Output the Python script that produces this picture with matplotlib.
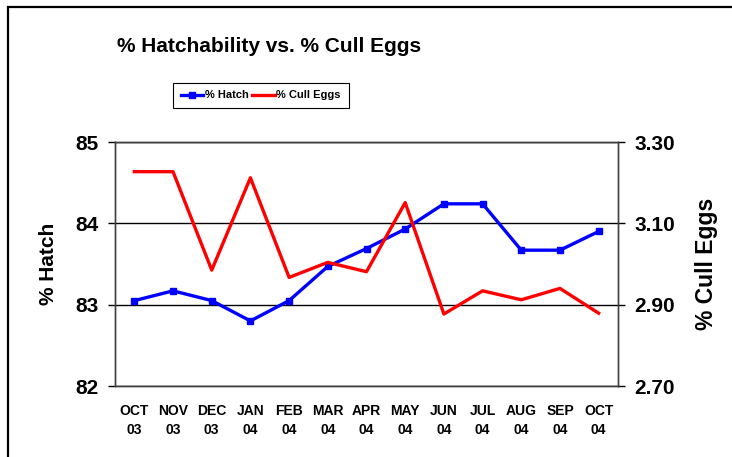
import matplotlib
matplotlib.use("Agg")
import matplotlib.pyplot as plt
from matplotlib.patches import Rectangle
from matplotlib.lines import Line2D

months = ["OCT\n03", "NOV\n03", "DEC\n03", "JAN\n04", "FEB\n04", "MAR\n04", "APR\n04",
          "MAY\n04", "JUN\n04", "JUL\n04", "AUG\n04", "SEP\n04", "OCT\n04"]
hatch = [83.05, 83.17, 83.05, 82.80, 83.05, 83.47, 83.69, 83.93, 84.24, 84.24, 83.67, 83.67, 83.90]
cull = [3.227, 3.227, 2.985, 3.212, 2.967, 3.004, 2.981, 3.151, 2.877, 2.934, 2.912, 2.940, 2.879]
left_ticks = [82, 83, 84, 85]
right_ticks = [2.70, 2.90, 3.10, 3.30]

font = "Liberation Sans"

fig = plt.figure(figsize=(7.32, 4.57), dpi=100)
fig.patch.set_facecolor("white")

# outer chart frame (extends past the image on right/bottom)
fig.patches.append(Rectangle((8 / 732, -0.2), 2.0, (457 - 7) / 457 + 0.2,
                             transform=fig.transFigure, fill=False,
                             edgecolor="black", linewidth=1.6, zorder=0))

ax = fig.add_axes([115 / 732, 1 - 386 / 457, 503 / 732, 244 / 457])
ax2 = ax.twinx()

x = list(range(len(months)))
ax.plot(x, hatch, color="#0000FF", linewidth=2.4, marker="s", markersize=4.5, zorder=3)
ax2.plot(x, cull, color="#FF0000", linewidth=2.4, zorder=3)

ax.set_xlim(-0.5, len(months) - 0.5)
ax.set_ylim(82, 85)
ax2.set_ylim(2.70, 3.30)
ax.set_yticks(left_ticks)
ax.set_yticklabels([f"{v:d}" for v in left_ticks], fontfamily=font, fontweight="bold", fontsize=15)
ax2.set_yticks(right_ticks)
ax2.set_yticklabels([f"{v:.2f}" for v in right_ticks], fontfamily=font, fontweight="bold", fontsize=15)
ax.set_xticks(x)
ax.set_xticklabels(months, fontfamily=font, fontweight="bold", fontsize=10, linespacing=1.45)
ax.tick_params(axis="x", length=0, pad=13)
ax.tick_params(axis="y", direction="out", length=5, width=1, pad=7)
ax2.tick_params(axis="y", direction="out", length=5, width=1, pad=7)

ax.yaxis.grid(True, color="black", linewidth=1)
ax.set_axisbelow(True)
for a in (ax, ax2):
    for s in a.spines.values():
        s.set_color("#404040")
        s.set_linewidth(1)

ax.set_ylabel("% Hatch", fontfamily=font, fontweight="bold", fontsize=15, labelpad=12)
ax2.set_ylabel("% Cull Eggs", fontfamily=font, fontweight="bold", fontsize=16.5, labelpad=14)

fig.text(269 / 732, 1 - 46 / 457, "% Hatchability vs. % Cull Eggs", ha="center", va="center",
         fontfamily=font, fontweight="bold", fontsize=15)

handles = [Line2D([], [], color="#0000FF", linewidth=2.4, marker="s", markersize=4.5),
           Line2D([], [], color="#FF0000", linewidth=2.4)]
leg = fig.legend(handles, ["% Hatch", "% Cull Eggs"], loc="center",
                 bbox_to_anchor=(261 / 732, 1 - 95.5 / 457), ncol=2,
                 prop={"family": font, "weight": "bold", "size": 8},
                 frameon=True, fancybox=False, edgecolor="black", framealpha=1,
                 handlelength=2.0, handletextpad=0.15, columnspacing=0.3,
                 borderpad=0.7, borderaxespad=0)
leg.get_frame().set_linewidth(0.8)

fig.savefig("out.png", dpi=100)
